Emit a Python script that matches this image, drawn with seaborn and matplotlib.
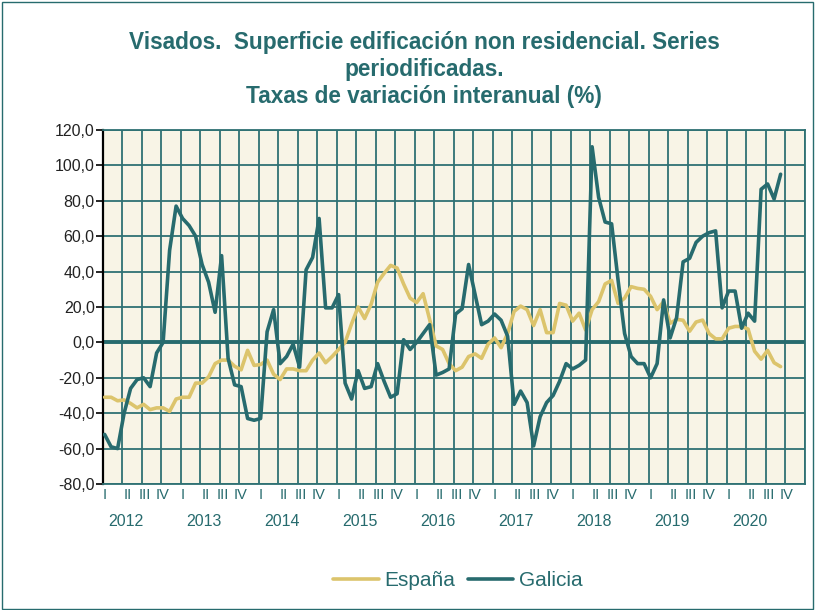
"""Visados: superficie edificación non residencial, taxas de variación interanual."""

import matplotlib

matplotlib.use("Agg")
import matplotlib.pyplot as plt
import matplotlib.patches as mpatches
import pandas as pd
import seaborn as sns

# monthly series, Jan 2012 .. Sep 2020
galicia = [
    -52, -59, -60, -40, -26, -21, -20, -25, -6, 0,
    52, 77, 70, 66, 60, 44, 34, 17, 49, -9,
    -24, -25, -43, -44, -43, 6, 18.5, -12, -8, -1,
    -14, 41, 48, 70, 19.5, 19.5, 27, -23, -32, -16,
    -26, -25, -12, -22, -31, -29, 1.5, -4, 0, 5,
    10, -18.5, -17, -15, 16, 19, 44, 27, 10, 12,
    16, 12.5, 3.5, -35, -27.5, -34, -58.5, -42, -34, -30,
    -22, -12, -15, -13, -10, 110.5, 82, 68, 67, 35,
    5, -8, -12, -12, -20, -12, 24, 2.5, 14, 45.5,
    47.5, 56.5, 60, 62, 63, 19.5, 29, 29, 8, 16.5,
    12, 86.5, 89.5, 81, 95,
]
espana = [
    -31, -31, -33, -32.5, -34.5, -37, -35, -38, -37, -37,
    -39, -32, -31, -31, -23, -23, -19.5, -12, -10, -10,
    -13.5, -15.5, -4.5, -13, -12.5, -10, -18, -21, -15, -15,
    -16, -16, -10, -6, -11.5, -8, -4, 0, 10.5, 20,
    13.5, 21.5, 34, 39, 43.5, 42, 33, 25, 22.5, 27.5,
    13, -2, -4, -12, -16, -14, -8, -6.5, -9, -1,
    2.5, -3, 5, 17.5, 20.5, 18.5, 9.5, 18.5, 5.5, 5.5,
    22, 21, 12, 16.5, 7, 18.5, 23, 33, 35, 22,
    25, 31.5, 30.5, 30, 26, 18.5, 23, 10.8, 13, 12.5,
    6.3, 11.5, 12.6, 5, 2, 2, 8, 9, 9, 7.5,
    -5, -9.5, -4.5, -11.5, -13.7,
]
years = ["2012", "2013", "2014", "2015", "2016", "2017", "2018", "2019", "2020"]
quarters = ["I", "II", "III", "IV"]
yticks = [120, 100, 80, 60, 40, 20, 0, -20, -40, -60, -80]

TEAL = "#276b6e"
GOLD = "#dcc46c"
GRID = "#2f7173"

df = pd.DataFrame(
    {
        "mes": list(range(len(espana))) * 2,
        "valor": espana + galicia,
        "serie": ["España"] * len(espana) + ["Galicia"] * len(galicia),
    }
)

sns.set_style("white")
plt.rcParams["font.family"] = ["Liberation Sans", "DejaVu Sans"]

fig = plt.figure(figsize=(8.16, 6.10), dpi=100)
ax = fig.add_axes([0.1262, 0.2066, 0.8603, 0.5803])
ax.set_facecolor("#f8f4e6")

sns.lineplot(
    data=df,
    x="mes",
    y="valor",
    hue="serie",
    hue_order=["España", "Galicia"],
    palette={"España": GOLD, "Galicia": TEAL},
    linewidth=2.6,
    ax=ax,
    zorder=3,
)

n_months = 12 * len(years)
ax.set_xlim(-0.25, n_months - 0.25)
ax.set_ylim(-80, 120)

# grid: quarter boundaries and every 20 points
ax.set_xticks([-0.25 + 3 * k for k in range(len(years) * 4 + 1)])
ax.set_xticklabels([])
ax.set_yticks(yticks)
ax.set_yticklabels([f"{v:.1f}".replace(".", ",") for v in yticks], fontsize=11.5, color="#222222")
ax.grid(True, color=GRID, linewidth=1.3)
ax.set_axisbelow(True)
ax.axhline(0, color=TEAL, linewidth=2.8, zorder=2)

q_offsets = [0, 3.5, 6.2, 8.9]
q_pos = [12 * y + q_offsets[q] for y in range(len(years)) for q in range(4)]
ax.set_xticks(q_pos, minor=True)
ax.set_xticklabels(quarters * len(years), minor=True, fontsize=10.5, color=TEAL)
ax.tick_params(axis="x", which="both", length=0)
ax.tick_params(axis="x", which="minor", pad=3)
ax.tick_params(axis="y", length=5, width=1.2, color="black", left=True, pad=1)
for i, yr in enumerate(years):
    ax.text(12 * i + 3.3, -0.105, yr, transform=ax.get_xaxis_transform(),
            ha="center", va="center", fontsize=11.5, color=TEAL)

for side in ["top", "right", "bottom"]:
    ax.spines[side].set_color(GRID)
    ax.spines[side].set_linewidth(1.3)
ax.spines["left"].set_color("black")
ax.spines["left"].set_linewidth(1.6)

ax.set_xlabel("")
ax.set_ylabel("")
ax.get_legend().remove()

fig.text(
    0.52, 0.95,
    "Visados.  Superficie edificación non residencial. Series\nperiodificadas.\n"
    "Taxas de variación interanual (%)",
    ha="center", va="top", fontsize=16.3, fontweight="bold", color=TEAL, linespacing=1.25,
)

handles = [
    plt.Line2D([], [], color=GOLD, linewidth=2.6),
    plt.Line2D([], [], color=TEAL, linewidth=2.6),
]
leg = fig.legend(
    handles, ["España", "Galicia"], loc="center", bbox_to_anchor=(0.561, 0.048),
    ncol=2, frameon=False, fontsize=15, handlelength=2.2, columnspacing=0.6,
    handletextpad=0.25,
)
for t in leg.get_texts():
    t.set_color(TEAL)

fig.patches.append(
    mpatches.Rectangle((0.002, 0.002), 0.994, 0.994, transform=fig.transFigure,
                       fill=False, edgecolor=TEAL, linewidth=1.0)
)

fig.savefig("out.png", dpi=100)
